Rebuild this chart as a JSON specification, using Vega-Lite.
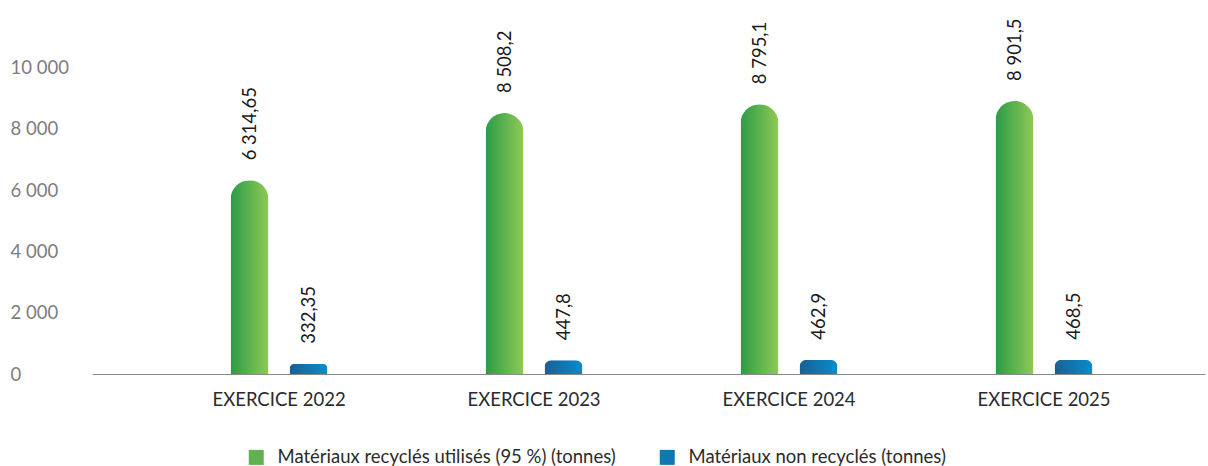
{
  "$schema": "https://vega.github.io/schema/vega-lite/v6.json",
  "autosize": "none",
  "width": 1113,
  "height": 368,
  "padding": {"left": 92, "top": 6, "right": 3, "bottom": 92},
  "background": "white",
  "config": {
    "view": {"stroke": null},
    "font": "Lato"
  },
  "data": {
    "values": [
      {"annee": "EXERCICE 2022", "serie": "Matériaux recyclés utilisés (95 %) (tonnes)", "valeur": 6314.65, "etiquette": "6 314,65"},
      {"annee": "EXERCICE 2022", "serie": "Matériaux non recyclés (tonnes)", "valeur": 332.35, "etiquette": "332,35"},
      {"annee": "EXERCICE 2023", "serie": "Matériaux recyclés utilisés (95 %) (tonnes)", "valeur": 8508.2, "etiquette": "8 508,2"},
      {"annee": "EXERCICE 2023", "serie": "Matériaux non recyclés (tonnes)", "valeur": 447.8, "etiquette": "447,8"},
      {"annee": "EXERCICE 2024", "serie": "Matériaux recyclés utilisés (95 %) (tonnes)", "valeur": 8795.1, "etiquette": "8 795,1"},
      {"annee": "EXERCICE 2024", "serie": "Matériaux non recyclés (tonnes)", "valeur": 462.9, "etiquette": "462,9"},
      {"annee": "EXERCICE 2025", "serie": "Matériaux recyclés utilisés (95 %) (tonnes)", "valeur": 8901.5, "etiquette": "8 901,5"},
      {"annee": "EXERCICE 2025", "serie": "Matériaux non recyclés (tonnes)", "valeur": 468.5, "etiquette": "468,5"}
    ]
  },
  "encoding": {
    "x": {
      "field": "annee", "type": "nominal", "sort": null,
      "scale": {"paddingInner": 0.157, "paddingOuter": 0.261, "align": 0.598},
      "axis": {
        "title": null, "labelAngle": 0, "ticks": false, "tickSize": 0,
        "labelPadding": 16, "labelFontSize": 18.5, "labelColor": "#2b2b2b",
        "labelFont": "Lato",
        "domainColor": "#8a8a8a", "domainWidth": 1
      }
    },
    "xOffset": {
      "field": "serie", "type": "nominal",
      "sort": ["Matériaux recyclés utilisés (95 %) (tonnes)", "Matériaux non recyclés (tonnes)"],
      "scale": {"paddingInner": 0.356, "paddingOuter": 1}
    },
    "y": {
      "field": "valeur", "type": "quantitative",
      "scale": {"domain": [0, 12000], "nice": false},
      "axis": {
        "title": null, "values": [0, 2000, 4000, 6000, 8000, 10000],
        "labelExpr": "replace(format(datum.value, ','), ',', ' ')",
        "grid": false, "domain": false, "ticks": false, "tickSize": 0,
        "labelAlign": "left", "labelPadding": 82, "labelFontSize": 18.5,
        "labelColor": "#7d7d7d", "labelFont": "Lato"
      }
    }
  },
  "layer": [
    {
      "transform": [{"filter": "datum.serie === 'Matériaux recyclés utilisés (95 %) (tonnes)'"}],
      "mark": {
        "type": "bar", "cornerRadiusTopLeft": 19, "cornerRadiusTopRight": 19,
        "color": {"gradient": "linear", "x1": 0, "x2": 1, "y1": 0, "y2": 0, "stops": [{"offset": 0, "color": "#2a9c48"}, {"offset": 1, "color": "#90c955"}]}
      }
    },
    {
      "transform": [{"filter": "datum.serie === 'Matériaux non recyclés (tonnes)'"}],
      "mark": {
        "type": "bar", "cornerRadiusTopLeft": 8, "cornerRadiusTopRight": 8,
        "color": {"gradient": "linear", "x1": 0, "x2": 1, "y1": 0, "y2": 0, "stops": [{"offset": 0, "color": "#1a5f96"}, {"offset": 1, "color": "#088dcb"}]}
      }
    },
    {
      "mark": {"type": "square", "opacity": 0, "size": 1},
      "encoding": {
        "color": {
          "field": "serie", "type": "nominal",
          "scale": {
            "domain": ["Matériaux recyclés utilisés (95 %) (tonnes)", "Matériaux non recyclés (tonnes)"],
            "range": ["#5fb34f", "#1177b2"]
          },
          "legend": {
            "title": null, "orient": "none", "direction": "horizontal",
            "legendX": 155, "legendY": 442,
            "symbolType": "square", "symbolSize": 225, "symbolStrokeWidth": 0,
            "symbolOpacity": 1,
            "labelFontSize": 18.5, "labelColor": "#2b2b2b", "labelFont": "Lato",
            "labelOffset": 12, "columnPadding": 42, "labelLimit": 500
          }
        }
      }
    },
    {
      "mark": {"type": "text", "angle": 270, "align": "left", "baseline": "middle", "dx": 20, "fontSize": 18.5, "color": "#1a1a1a", "font": "Lato"},
      "encoding": {
        "text": {"field": "etiquette", "type": "nominal"}
      }
    }
  ]
}
